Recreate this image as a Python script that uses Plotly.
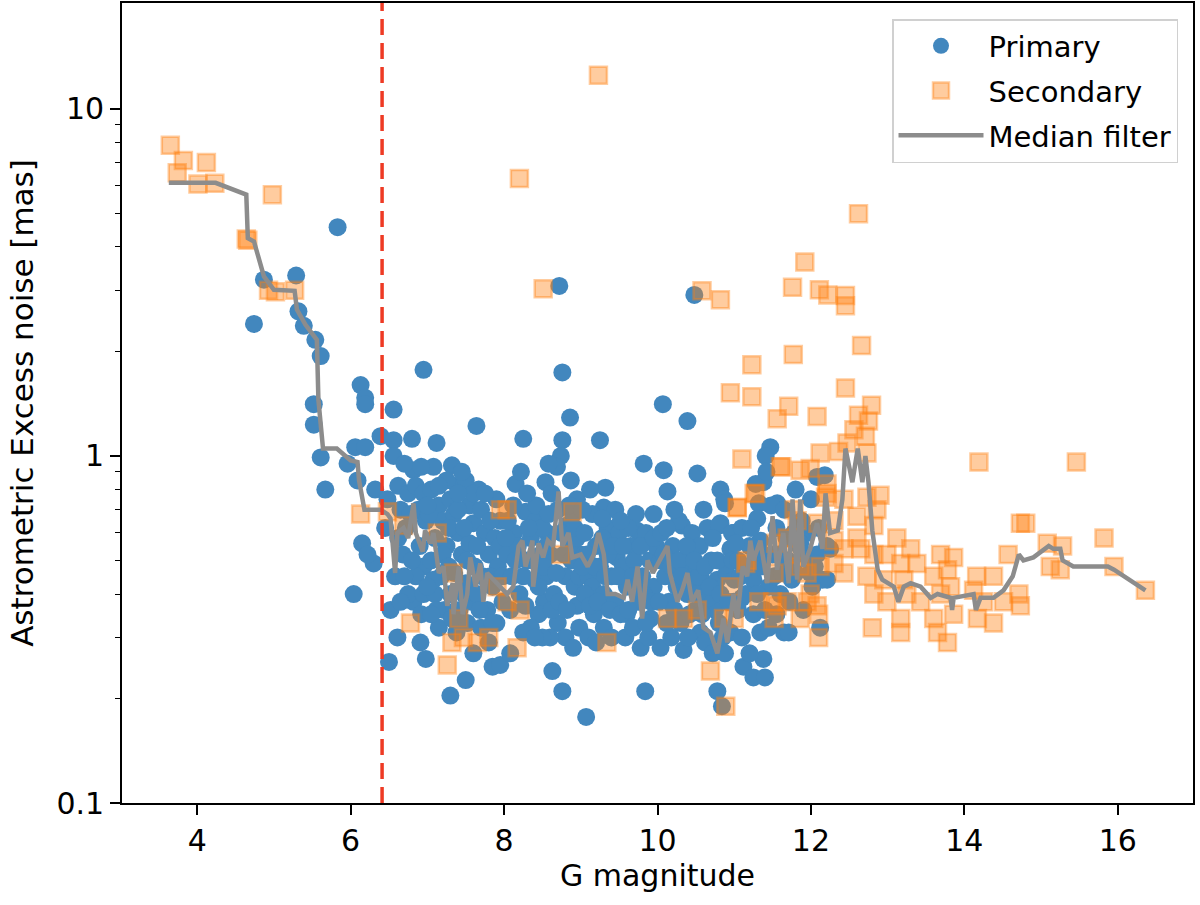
import plotly.graph_objects as go

# G magnitude vs astrometric excess noise [mas]
primary = [
    (4.74, 2.40), (4.87, 3.22), (5.29, 3.31), (5.32, 2.61), (5.39, 2.37), (5.54, 2.16), (5.61, 1.94), (5.83, 4.56),
    (5.52, 1.41), (5.52, 1.23), (5.61, 0.99), (5.67, 0.80), (5.96, 0.95), (6.06, 1.06), (6.04, 0.40), (6.13, 1.60),
    (6.19, 1.47), (6.19, 1.41), (6.19, 1.06), (6.09, 0.85), (6.32, 0.80), (6.39, 1.14), (6.15, 0.56), (6.30, 0.49),
    (6.22, 0.52),
    (6.56, 1.36), (6.56, 1.11), (6.56, 1.00), (6.80, 1.12), (7.12, 1.09), (6.95, 1.77), (6.82, 0.91), (7.08, 0.93),
    (7.32, 0.94), (7.39, 0.82), (7.67, 0.80), (7.64, 1.22),
    (6.58, 0.45), (6.52, 0.36), (6.61, 0.30), (6.50, 0.255), (6.82, 0.38), (6.91, 0.29), (6.98, 0.26), (7.30, 0.204),
    (7.50, 0.226), (7.85, 0.247),
    (6.48, 0.75), (6.45, 0.62), (6.62, 0.82), (6.70, 0.95), (6.75, 0.78), (6.72, 0.62), (6.88, 0.70), (6.90, 0.55),
    (6.95, 0.48), (6.85, 0.45), (6.68, 0.52), (6.75, 0.40), (6.92, 0.35), (6.98, 0.65), (6.92, 0.93), (6.62, 0.58),
    (6.65, 0.70), (6.70, 0.45), (6.78, 0.68), (6.80, 0.50), (6.85, 0.82), (6.65, 0.38), (6.95, 0.40), (6.95, 0.78),
    (7.05, 0.80), (7.15, 0.72), (7.20, 0.65), (7.10, 0.58), (7.25, 0.55), (7.05, 0.50), (7.18, 0.45), (7.10, 0.40),
    (7.22, 0.36), (7.15, 0.32), (7.30, 0.75), (7.35, 0.68), (7.40, 0.60), (7.45, 0.52), (7.35, 0.46), (7.30, 0.40),
    (7.42, 0.36), (7.38, 0.31), (7.50, 0.85), (7.55, 0.72), (7.60, 0.64), (7.55, 0.56), (7.62, 0.48), (7.50, 0.43),
    (7.58, 0.38), (7.52, 0.33), (7.70, 0.70), (7.75, 0.60), (7.80, 0.52), (7.72, 0.45), (7.85, 0.42), (7.78, 0.36),
    (7.70, 0.32), (7.90, 0.75), (7.95, 0.65), (7.88, 0.58), (7.92, 0.48), (7.98, 0.38), (7.90, 0.33), (7.25, 0.85),
    (7.45, 0.90), (7.60, 0.27), (7.80, 0.29), (7.95, 0.25), (8.08, 0.27),
    (7.02, 0.68), (7.08, 0.44), (7.12, 0.36), (7.20, 0.52), (7.28, 0.62), (7.28, 0.48), (7.32, 0.34), (7.40, 0.70),
    (7.48, 0.62), (7.48, 0.40), (7.52, 0.50), (7.65, 0.55), (7.65, 0.40), (7.68, 0.36), (7.82, 0.65), (7.82, 0.45),
    (7.85, 0.33), (7.95, 0.55), (7.98, 0.45), (7.60, 0.78), (7.75, 0.78), (7.40, 0.78), (7.15, 0.82), (7.00, 0.72),
    (7.00, 0.42), (7.05, 0.35),
    (8.25, 1.12), (8.76, 1.74), (8.72, 3.09), (8.86, 1.29), (8.76, 1.11), (8.74, 1.00), (8.69, 0.93), (8.54, 0.84),
    (8.15, 0.83), (8.87, 0.85), (8.95, 0.75), (9.30, 0.71), (8.28, 0.69), (8.41, 0.65), (8.82, 0.63), (8.56, 0.60),
    (8.13, 0.60), (8.04, 0.52), (9.00, 0.52), (8.52, 0.38), (8.95, 0.37), (8.63, 0.24), (8.76, 0.21),
    (8.05, 0.65), (8.10, 0.45), (8.18, 0.55), (8.20, 0.40), (8.30, 0.50), (8.35, 0.58), (8.40, 0.44), (8.45, 0.35),
    (8.35, 0.32), (8.25, 0.31), (8.48, 0.52), (8.42, 0.72), (8.30, 0.78), (8.22, 0.90), (8.50, 0.62),
    (8.55, 0.45), (8.60, 0.52), (8.65, 0.40), (8.70, 0.33), (8.80, 0.45), (8.85, 0.55), (8.90, 0.68), (8.70, 0.70),
    (8.62, 0.78), (8.80, 0.30), (8.92, 0.42), (8.98, 0.32), (8.60, 0.30), (8.75, 0.60), (8.58, 0.95), (8.95, 0.58),
    (8.90, 0.28),
    (8.02, 0.58), (8.08, 0.36), (8.12, 0.72), (8.15, 0.50), (8.25, 0.45), (8.28, 0.37), (8.32, 0.62), (8.38, 0.50),
    (8.45, 0.42), (8.50, 0.30), (8.52, 0.48), (8.58, 0.68), (8.62, 0.36), (8.68, 0.46), (8.72, 0.38), (8.78, 0.52),
    (8.82, 0.36), (8.85, 0.72), (8.88, 0.50), (8.92, 0.62), (8.98, 0.45), (8.40, 0.30), (8.55, 0.55),
    (9.25, 1.11), (9.82, 0.95), (9.32, 0.81), (9.95, 0.68), (9.73, 0.61), (9.41, 0.60), (9.47, 0.51), (9.17, 0.35),
    (9.60, 0.35), (9.91, 0.34), (9.30, 0.32), (9.78, 0.28), (9.84, 0.21), (9.07, 0.177),
    (9.05, 0.60), (9.10, 0.45), (9.15, 0.42), (9.20, 0.55), (9.25, 0.48), (9.30, 0.40), (9.35, 0.62), (9.40, 0.45),
    (9.45, 0.38), (9.50, 0.60), (9.10, 0.30), (9.20, 0.29), (9.40, 0.30), (9.35, 0.52), (9.15, 0.68), (9.05, 0.40),
    (9.45, 0.70), (9.12, 0.80),
    (9.55, 0.48), (9.60, 0.42), (9.65, 0.55), (9.70, 0.50), (9.75, 0.38), (9.80, 0.45), (9.85, 0.60), (9.90, 0.50),
    (9.95, 0.42), (9.58, 0.30), (9.68, 0.32), (9.88, 0.30), (9.98, 0.55), (9.72, 0.68), (9.62, 0.62),
    (9.02, 0.48), (9.08, 0.52), (9.12, 0.37), (9.18, 0.48), (9.22, 0.38), (9.28, 0.58), (9.32, 0.45), (9.38, 0.36),
    (9.42, 0.55), (9.48, 0.45), (9.52, 0.35), (9.55, 0.55), (9.62, 0.36), (9.68, 0.45), (9.72, 0.42), (9.78, 0.55),
    (9.82, 0.40), (9.85, 0.33), (9.92, 0.38), (9.95, 0.58), (9.52, 0.65), (9.28, 0.66), (9.02, 0.70),
    (10.07, 1.41), (10.39, 1.26), (10.48, 2.91), (10.08, 0.91), (10.13, 0.79), (10.52, 0.89), (10.82, 0.80),
    (10.87, 0.75), (10.82, 0.64), (10.99, 0.60), (10.32, 0.63), (10.04, 0.50), (10.39, 0.48), (10.56, 0.45),
    (10.78, 0.44), (10.39, 0.40), (10.65, 0.38), (10.99, 0.38), (10.04, 0.28), (10.34, 0.276), (10.56, 0.31),
    (10.95, 0.31), (10.78, 0.21), (10.84, 0.19),
    (10.05, 0.60), (10.10, 0.45), (10.15, 0.38), (10.20, 0.55), (10.25, 0.42), (10.30, 0.33), (10.35, 0.50),
    (10.45, 0.44), (10.50, 0.36), (10.18, 0.30), (10.40, 0.30), (10.28, 0.65), (10.45, 0.60),
    (10.55, 0.55), (10.60, 0.42), (10.70, 0.50), (10.75, 0.36), (10.80, 0.33), (10.90, 0.46), (10.95, 0.54),
    (10.62, 0.29), (10.72, 0.27), (10.88, 0.27), (10.65, 0.62), (11.00, 0.44), (10.88, 0.73), (10.80, 0.63),
    (10.97, 0.60), (10.66, 0.39), (10.53, 0.45),
    (10.02, 0.38), (10.08, 0.52), (10.12, 0.33), (10.18, 0.48), (10.22, 0.36), (10.28, 0.50), (10.32, 0.45),
    (10.38, 0.55), (10.42, 0.35), (10.48, 0.50), (10.52, 0.40), (10.58, 0.35), (10.62, 0.48), (10.68, 0.42),
    (10.72, 0.58), (10.78, 0.50), (10.82, 0.40), (10.85, 0.30), (10.92, 0.38), (10.98, 0.50), (10.12, 0.62),
    (10.22, 0.70), (10.60, 0.70),
    (11.47, 1.06), (11.41, 1.00), (11.38, 0.84), (11.34, 0.57), (11.78, 0.60), (11.95, 0.60), (12.25, 0.54),
    (11.34, 0.31), (11.65, 0.31), (12.12, 0.32), (11.12, 0.247), (11.25, 0.23), (11.38, 0.26), (11.40, 0.23),
    (11.28, 0.83), (11.32, 0.73), (11.56, 0.73), (11.25, 0.44), (11.86, 0.56), (12.21, 0.44), (12.21, 0.55),
    (12.08, 0.87), (11.73, 0.48), (11.99, 0.46), (11.71, 0.31), (11.10, 0.39),
    (11.05, 0.50), (11.10, 0.62), (11.15, 0.40), (11.20, 0.55), (11.25, 0.35), (11.30, 0.66), (11.35, 0.48),
    (11.45, 0.42), (11.50, 0.52), (11.10, 0.30), (11.20, 0.27), (11.45, 0.32), (11.05, 0.36), (11.48, 0.72),
    (11.42, 0.90), (11.55, 0.62), (11.60, 0.40), (11.70, 0.50), (11.75, 0.44), (11.85, 0.55), (11.90, 0.36),
    (12.00, 0.75), (12.05, 0.48), (12.15, 0.44), (12.10, 0.62), (11.65, 0.70), (11.80, 0.80), (12.18, 0.88),
    (12.02, 0.42), (11.55, 0.35),
    (11.02, 0.56), (11.08, 0.45), (11.18, 0.48), (11.22, 0.62), (11.30, 0.40), (11.38, 0.52), (11.40, 0.36),
    (11.52, 0.45), (11.58, 0.52), (11.62, 0.46), (11.68, 0.58), (11.72, 0.38), (11.80, 0.46), (11.88, 0.65),
    (11.92, 0.52), (12.08, 0.52),
]

secondary = [
    (3.65, 7.85), (3.82, 7.10), (4.12, 7.00), (3.74, 6.55), (4.01, 6.07), (4.23, 6.10), (4.98, 5.66), (4.64, 4.22),
    (4.66, 4.18), (4.93, 3.00), (5.02, 2.97), (5.27, 3.00),
    (6.13, 0.68), (6.48, 0.69), (6.69, 0.63), (7.13, 0.60), (7.34, 0.46), (7.41, 0.34), (7.47, 0.30), (7.32, 0.29),
    (7.65, 0.29), (7.80, 0.30), (6.78, 0.33), (7.26, 0.25), (7.91, 0.42), (7.95, 0.70),
    (8.04, 0.70), (8.89, 0.69), (8.74, 0.52), (8.21, 0.36), (8.17, 0.28), (8.04, 0.38), (9.34, 0.29),
    (8.20, 6.30), (8.51, 3.03), (9.23, 12.5),
    (10.13, 0.34), (10.34, 0.34), (10.52, 0.36), (10.69, 0.24), (10.89, 0.19), (10.95, 0.42), (11.00, 0.34),
    (10.86, 0.34), (10.58, 2.99), (10.82, 2.82),
    (11.04, 0.71), (11.28, 0.78), (11.17, 0.50), (11.10, 0.98), (11.23, 1.83), (10.95, 1.52), (11.23, 1.48),
    (11.77, 1.96), (11.56, 1.28), (11.71, 1.39), (12.08, 1.30), (11.60, 0.93), (11.86, 0.91), (11.56, 0.37),
    (11.52, 0.34), (11.95, 0.38), (12.08, 0.37), (12.10, 0.30), (11.78, 0.70), (12.21, 0.78), (12.30, 0.57),
    (11.78, 0.52), (11.52, 0.46), (11.86, 0.48), (12.30, 0.49), (12.10, 0.35), (11.69, 0.38), (11.32, 0.38),
    (11.50, 0.38), (11.99, 0.40), (11.86, 0.34), (11.15, 0.49), (11.26, 0.78),
    (12.62, 4.99), (11.92, 3.62), (11.76, 3.06), (12.11, 3.01), (12.22, 2.91), (12.45, 2.90), (12.45, 2.71),
    (12.66, 2.08), (12.45, 1.57), (12.79, 1.40), (12.62, 1.31), (12.75, 1.26), (12.56, 1.19), (12.71, 1.14),
    (12.73, 1.02), (12.47, 1.09), (12.12, 1.02), (11.62, 0.93), (12.36, 1.03), (11.99, 0.92), (11.04, 0.71),
    (12.21, 0.83), (12.19, 0.76), (12.43, 0.75), (12.73, 0.76), (12.90, 0.77), (12.86, 0.70), (12.60, 0.67),
    (12.30, 0.65), (12.09, 0.64), (11.82, 0.65), (11.69, 0.58), (11.54, 0.56), (12.82, 0.63), (12.60, 0.58),
    (12.43, 0.54), (12.65, 0.54), (12.43, 0.46), (12.12, 0.48), (11.95, 0.46),
    (13.12, 0.58), (12.82, 0.52), (12.99, 0.52), (13.30, 0.54), (13.17, 0.49), (13.38, 0.49), (13.69, 0.52),
    (13.86, 0.51), (13.78, 0.47), (13.60, 0.45), (13.21, 0.44), (12.95, 0.44), (12.73, 0.45), (12.82, 0.40),
    (12.99, 0.38), (13.25, 0.40), (13.43, 0.38), (13.69, 0.40), (13.82, 0.42), (13.86, 0.35), (13.60, 0.34),
    (13.17, 0.34), (12.80, 0.32), (13.17, 0.31), (13.65, 0.31), (13.78, 0.29),
    (14.19, 0.96), (15.46, 0.96), (14.16, 0.45), (14.38, 0.45), (14.12, 0.41), (14.25, 0.38), (14.17, 0.34),
    (14.38, 0.33), (14.51, 0.38), (14.71, 0.40), (14.73, 0.37), (14.57, 0.52), (14.73, 0.64), (14.80, 0.64),
    (15.08, 0.56), (15.28, 0.55), (15.12, 0.48), (15.25, 0.47), (15.82, 0.58), (15.95, 0.48), (16.36, 0.41),
]

median_filter = [
    (3.63, 6.12), (4.24, 6.12), (4.64, 5.66), (4.66, 4.24), (4.74, 4.15), (4.87, 3.29), (5.00, 3.01), (5.27, 2.99),
    (5.30, 2.64), (5.41, 2.39), (5.56, 2.16), (5.58, 1.45), (5.64, 1.05), (5.82, 1.05), (6.00, 0.97), (6.09, 0.96),
    (6.11, 0.85), (6.18, 0.70), (6.39, 0.70), (6.48, 0.68),
    (6.52, 0.66), (6.58, 0.46), (6.61, 0.60), (6.69, 0.62), (6.75, 0.58), (6.82, 0.73), (6.85, 0.60), (6.94, 0.53),
    (6.97, 0.61), (7.04, 0.56), (7.08, 0.60), (7.15, 0.46), (7.21, 0.48), (7.26, 0.37), (7.33, 0.43), (7.34, 0.35),
    (7.41, 0.48), (7.46, 0.35), (7.52, 0.40), (7.56, 0.51), (7.63, 0.42), (7.69, 0.49), (7.73, 0.38), (7.78, 0.46),
    (7.95, 0.42), (8.04, 0.40), (8.12, 0.42), (8.19, 0.55), (8.24, 0.57), (8.28, 0.48), (8.37, 0.57), (8.38, 0.42),
    (8.45, 0.56), (8.51, 0.51), (8.57, 0.57), (8.64, 0.55), (8.71, 0.79), (8.76, 0.55), (8.84, 0.60), (8.89, 0.51),
    (9.00, 0.52), (9.09, 0.48), (9.17, 0.52), (9.23, 0.60), (9.30, 0.52), (9.35, 0.40), (9.45, 0.40), (9.56, 0.39),
    (9.61, 0.44), (9.67, 0.38), (9.74, 0.48), (9.80, 0.34), (9.87, 0.50), (9.94, 0.46), (10.13, 0.55), (10.16, 0.46),
    (10.26, 0.38), (10.32, 0.41), (10.39, 0.46), (10.45, 0.38), (10.53, 0.41), (10.60, 0.32), (10.69, 0.31),
    (10.78, 0.27), (10.86, 0.34), (10.91, 0.29), (10.99, 0.40), (11.04, 0.34), (11.11, 0.48), (11.17, 0.45),
    (11.21, 0.57), (11.25, 0.50), (11.34, 0.57), (11.43, 0.43), (11.50, 0.67), (11.56, 0.47), (11.64, 0.60),
    (11.71, 0.43), (11.76, 0.75), (11.82, 0.44), (11.86, 0.75), (11.90, 0.48), (11.99, 0.54), (12.08, 0.64),
    (12.15, 0.54), (12.19, 0.78), (12.25, 0.60), (12.35, 0.61), (12.41, 0.75), (12.45, 1.05), (12.54, 0.84),
    (12.61, 1.05), (12.67, 0.84), (12.71, 1.00), (12.75, 0.84), (12.80, 0.61), (12.87, 0.47), (12.93, 0.44),
    (13.08, 0.42), (13.14, 0.38), (13.21, 0.42), (13.30, 0.43), (13.43, 0.42), (13.56, 0.39), (13.65, 0.40),
    (13.82, 0.39), (13.84, 0.36), (13.86, 0.39), (14.12, 0.40), (14.15, 0.36), (14.21, 0.39), (14.38, 0.39),
    (14.51, 0.41), (14.63, 0.45), (14.71, 0.52), (14.77, 0.50), (14.90, 0.51), (15.10, 0.55), (15.16, 0.54),
    (15.25, 0.54), (15.28, 0.50), (15.42, 0.48), (15.87, 0.48), (15.95, 0.47), (16.36, 0.41),
]

cut_mag = 6.41  # dashed vertical line

blue = '#4287be'
grey = '#8c8c8c'
red = '#ee3a24'

fig = go.Figure()
fig.add_trace(go.Scatter(x=[p[0] for p in primary], y=[p[1] for p in primary], mode='markers',
                         name='Primary', legendgroup='a',
                         marker=dict(symbol='circle', size=18, color=blue)))
fig.add_trace(go.Scatter(x=[p[0] for p in secondary], y=[p[1] for p in secondary], mode='markers',
                         name='Secondary', legendgroup='b',
                         marker=dict(symbol='square', size=17, color='rgba(255,127,14,0.4)',
                                     line=dict(color='rgba(255,127,14,0.4)', width=2.5))))
fig.add_trace(go.Scatter(x=[p[0] for p in median_filter], y=[p[1] for p in median_filter], mode='lines',
                         name='Median filter', legendgroup='c',
                         line=dict(color=grey, width=4.5)))

fig.add_shape(type='line', xref='x', yref='paper', x0=cut_mag, x1=cut_mag, y0=0, y1=1,
              line=dict(color=red, width=3.5, dash='16px,8px'))

axis_style = dict(showline=True, mirror=True, linecolor='black', linewidth=1.6, ticks='outside',
                  tickcolor='black', tickwidth=1.6, ticklen=10, showgrid=False, zeroline=False,
                  automargin=False, tickfont=dict(size=30))

fig.update_xaxes(range=[3.02, 16.98], tickvals=[4, 6, 8, 10, 12, 14, 16],
                 title=dict(text='G magnitude', standoff=6, font=dict(size=30)), **axis_style)
fig.update_yaxes(type='log', range=[-1, 1.305], tickvals=[0.1, 1, 10], ticktext=['0.1', '1', '10'],
                 minor=dict(tickvals=[0.2, 0.3, 0.4, 0.5, 0.6, 0.7, 0.8, 0.9, 2, 3, 4, 5, 6, 7, 8, 9],
                            ticks='outside', ticklen=5, tickwidth=1.2, tickcolor='black', showgrid=False),
                 title=dict(text='Astrometric Excess noise [mas]', standoff=14, font=dict(size=31)),
                 **axis_style)

fig.update_layout(
    width=1200, height=905,
    margin=dict(l=122, r=7, t=3, b=102),
    paper_bgcolor='white', plot_bgcolor='white',
    font=dict(family='DejaVu Sans', size=29, color='black'),
    legend=dict(x=0.986, y=0.98, xanchor='right', yanchor='top', bgcolor='rgba(255,255,255,0.8)',
                bordercolor='#d0d0d0', borderwidth=1.5, itemwidth=85, tracegroupgap=4,
                font=dict(size=29)),
)

# drop the browser's default 8px body margin so the figure sits at the page origin
fig.write_html("out.html", config={'displayModeBar': False},
               post_script="document.body.style.margin='0px';")
